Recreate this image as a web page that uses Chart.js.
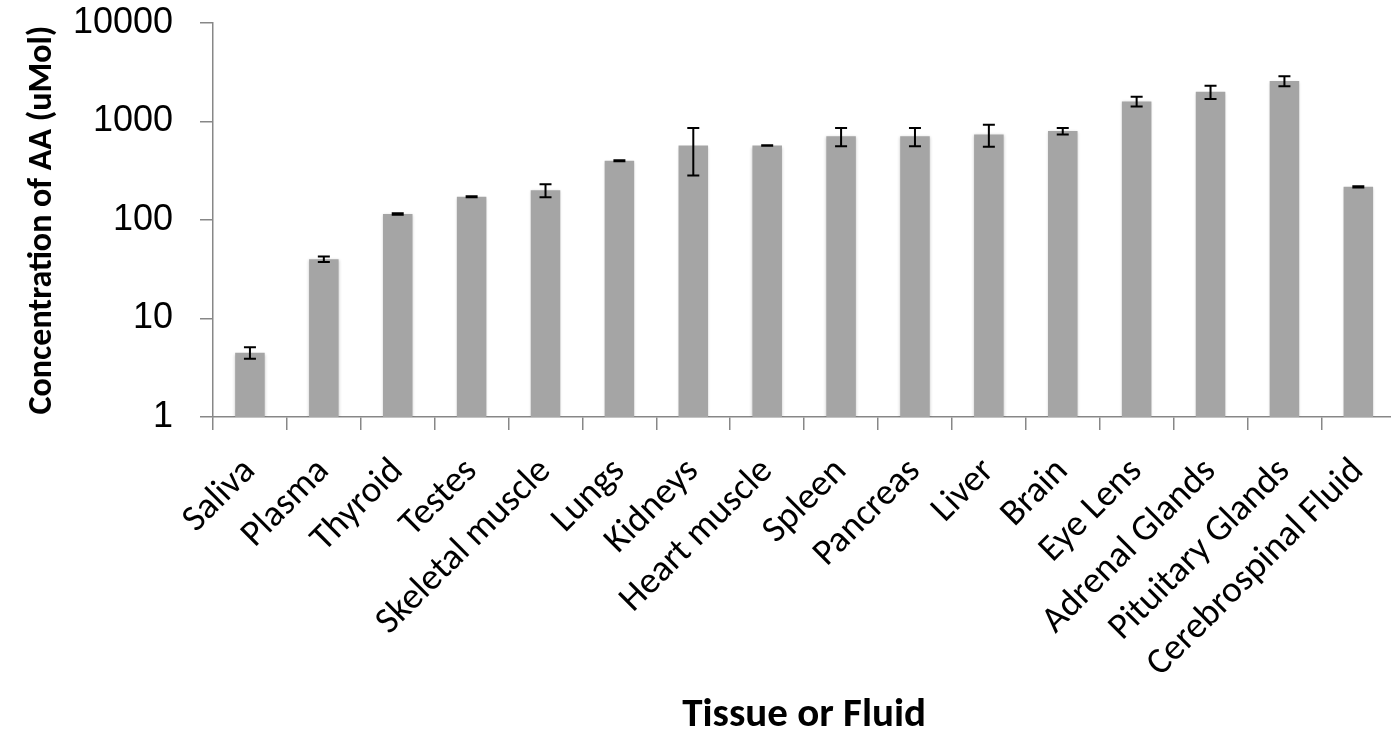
<!DOCTYPE html>
<html>
<head>
<meta charset="utf-8">
<script src="https://cdn.jsdelivr.net/npm/chart.js@4/dist/chart.umd.min.js"></script>
<style>
  html, body { margin: 0; padding: 0; background: #ffffff; overflow: hidden; }
  #wrap { position: absolute; left: 0; top: 0; width: 1410px; height: 736px; }
</style>
</head>
<body>
<div id="wrap"><canvas id="chart" width="1410" height="736"></canvas></div>
<script>
// Ascorbic acid concentration by tissue / fluid (uMol), with standard deviations
const categories = [
  'Saliva', 'Plasma', 'Thyroid', 'Testes', 'Skeletal muscle', 'Lungs',
  'Kidneys', 'Heart muscle', 'Spleen', 'Pancreas', 'Liver', 'Brain',
  'Eye Lens', 'Adrenal Glands', 'Pituitary Glands', 'Cerebrospinal Fluid'
];
const concentration = [4.5, 40, 115, 172, 200, 400, 570, 570, 710, 710, 740, 800, 1600, 2000, 2580, 217];
const deviation     = [0.6, 2.5, 2, 2, 30, 4, 287, 4, 150, 150, 185, 60, 180, 310, 300, 3];
const yTickValues   = [1, 10, 100, 1000, 10000];

const axisGray = '#878787';

// Draws vertical error bars with end caps at each bar
const errorBars = {
  id: 'errorBars',
  afterDatasetsDraw(chart) {
    const { ctx, scales: { y } } = chart;
    const meta = chart.getDatasetMeta(0);
    ctx.save();
    ctx.strokeStyle = '#000000';
    ctx.lineWidth = 2;
    meta.data.forEach((bar, i) => {
      const v = concentration[i], e = deviation[i];
      const top = y.getPixelForValue(v + e);
      const bot = y.getPixelForValue(Math.max(v - e, 1e-6));
      const x = bar.x, cap = 6;
      ctx.beginPath();
      ctx.moveTo(x, top); ctx.lineTo(x, bot);
      ctx.moveTo(x - cap, top); ctx.lineTo(x + cap, top);
      ctx.moveTo(x - cap, bot); ctx.lineTo(x + cap, bot);
      ctx.stroke();
    });
    ctx.restore();
  }
};

// Soft shadow around the bars
const barShadow = {
  id: 'barShadow',
  beforeDatasetsDraw(chart) {
    const ctx = chart.ctx;
    ctx.save();
    ctx.shadowColor = 'rgba(0,0,0,0.22)';
    ctx.shadowBlur = 3;
    ctx.shadowOffsetX = 0;
    ctx.shadowOffsetY = 1;
  },
  afterDatasetsDraw(chart) {
    chart.ctx.restore();
  }
};

new Chart(document.getElementById('chart'), {
  type: 'bar',
  data: {
    labels: categories,
    datasets: [{
      data: concentration,
      backgroundColor: '#a5a5a5',
      borderWidth: 0,
      categoryPercentage: 1.0,
      barPercentage: 0.4
    }]
  },
  plugins: [barShadow, errorBars],
  options: {
    responsive: false,
    devicePixelRatio: 1,
    animation: false,
    layout: { padding: { top: 0, right: 9, bottom: 0, left: 0 } },
    plugins: {
      legend: { display: false },
      tooltip: { enabled: false }
    },
    scales: {
      x: {
        offset: true,
        grid: {
          offset: true,
          drawOnChartArea: false,
          drawTicks: true,
          tickLength: 13,
          color: axisGray,
          lineWidth: 1.5
        },
        border: { color: axisGray, width: 1.5 },
        ticks: {
          autoSkip: false,
          minRotation: 45,
          maxRotation: 45,
          padding: 20,
          color: '#000000',
          font: { family: 'Carlito, Lato, sans-serif', size: 37 }
        },
        title: {
          display: true,
          text: 'Tissue or Fluid',
          color: '#000000',
          padding: { top: 0, bottom: 0 },
          font: { family: 'Carlito, Lato, sans-serif', size: 41, weight: 'bold', lineHeight: 1 }
        },
        afterFit(scale) { scale.height = 319; }
      },
      y: {
        type: 'logarithmic',
        min: 1,
        max: 10000,
        afterBuildTicks(scale) {
          scale.ticks = yTickValues.map(v => ({ value: v }));
        },
        grid: {
          drawOnChartArea: false,
          drawTicks: true,
          tickLength: 13,
          color: axisGray,
          lineWidth: 1.5
        },
        border: { color: axisGray, width: 1.5 },
        ticks: {
          padding: 27,
          color: '#000000',
          font: { family: '"Liberation Sans", Arial, sans-serif', size: 36 },
          callback: v => String(v)
        },
        title: {
          display: true,
          text: 'Concentration of AA (uMol)',
          color: '#000000',
          padding: { top: 22, bottom: 0 },
          font: { family: 'Carlito, Lato, sans-serif', size: 34, weight: 'bold' }
        },
        afterFit(scale) {
          scale.width = 213;
          scale.paddingTop = 23;
          scale.paddingBottom = 0;
        }
      }
    }
  }
});
</script>
</body>
</html>
